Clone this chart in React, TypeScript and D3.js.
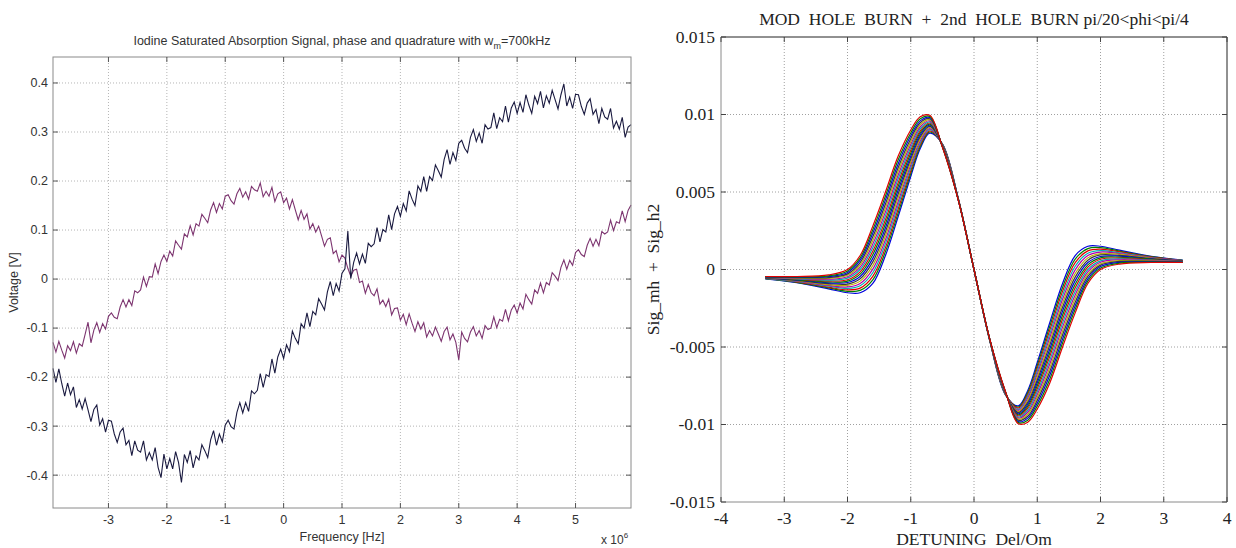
import React from 'react';
import * as d3 from 'd3';

// ---------------- Left panel data (frequency in units of 10^6 Hz, voltage in mV) ----------------
const FREQ_START = -3.95;
const FREQ_STEP = 0.05;

const inPhaseMv = [
  -182, -211, -183, -213, -239, -212, -236, -220, -262, -246,
  -265, -244, -267, -291, -266, -257, -298, -285, -312, -288,
  -290, -316, -333, -312, -304, -338, -329, -360, -330, -349,
  -353, -330, -369, -354, -369, -344, -384, -405, -357, -387,
  -366, -387, -352, -374, -415, -358, -374, -350, -385, -361,
  -369, -338, -350, -364, -328, -309, -339, -316, -332, -298,
  -288, -301, -306, -272, -252, -273, -252, -270, -228, -234,
  -227, -193, -221, -195, -199, -163, -192, -159, -143, -162,
  -134, -148, -106, -121, -132, -91, -100, -69, -97, -66,
  -73, -40, -51, -63, -26, -5, -34, -9, -24, 12,
  21, 98, 1, 34, 53, 31, 51, 32, 73, 66,
  72, 105, 76, 101, 96, 131, 101, 133, 148, 128,
  154, 139, 180, 163, 150, 190, 179, 209, 179, 209,
  201, 233, 221, 208, 244, 264, 234, 258, 242, 277,
  283, 267, 258, 289, 305, 281, 298, 277, 315, 306,
  309, 339, 307, 329, 321, 353, 320, 349, 361, 338,
  360, 340, 376, 355, 338, 373, 358, 383, 349, 374,
  359, 385, 366, 347, 376, 398, 353, 371, 348, 377,
  376, 352, 336, 359, 368, 336, 346, 317, 348, 331,
  326, 348, 308, 322, 306, 330, 289, 310, 315,
];

const quadratureMv = [
  -129, -149, -127, -145, -161, -136, -146, -128, -151, -132,
  -137, -113, -88, -130, -104, -89, -109, -91, -102, -76,
  -69, -78, -81, -57, -42, -57, -42, -54, -24, -28,
  -22, 4, -15, 5, 4, 31, 11, 36, 49, 36,
  57, 47, 78, 69, 61, 92, 86, 109, 90, 113,
  108, 132, 124, 115, 141, 156, 136, 154, 143, 169,
  172, 160, 153, 174, 185, 167, 178, 163, 189, 182,
  179, 196, 168, 179, 169, 187, 158, 174, 178, 156,
  165, 143, 162, 141, 121, 140, 122, 133, 102, 113,
  96, 108, 88, 67, 81, 84, 52, 58, 35, 49,
  43, 22, 6, 18, 20, -7, -4, -29, -11, -28,
  -34, -20, -51, -43, -56, -41, -73, -60, -59, -84,
  -72, -93, -71, -90, -107, -87, -102, -89, -118, -105,
  -116, -98, -112, -127, -107, -98, -124, -112, -129, -165,
  -108, -121, -128, -108, -97, -116, -105, -121, -95, -103,
  -100, -77, -99, -82, -86, -62, -85, -63, -53, -69,
  -49, -61, -31, -42, -51, -22, -29, -8, -28, -7,
  -12, 13, 6, -3, 24, 39, 20, 38, 28, 54,
  60, 50, 46, 69, 83, 67, 81, 68, 97, 92,
  96, 120, 99, 117, 114, 139, 117, 140, 151,
];

const leftXTicks = [-3, -2, -1, 0, 1, 2, 3, 4, 5];
const leftYTicks = [-0.4, -0.3, -0.2, -0.1, 0, 0.1, 0.2, 0.3, 0.4];

// ---------------- Right panel data (signal in units of 1e-3) ----------------
const detuning = [-3.3, -2.8, -2.3, -2.0, -1.8, -1.6, -1.4, -1.2, -1.0, -0.85, -0.7, -0.5, -0.25, 0,
  0.25, 0.5, 0.7, 0.85, 1.0, 1.2, 1.4, 1.6, 1.8, 2.0, 2.3, 2.8, 3.3];

const sigPhi01 = [-0.60, -0.85, -1.25, -1.50, -1.50, -0.90, 0.90, 3.40, 6.00, 7.80, 8.80, 8.10, 4.60, 0, -4.60, -8.10, -8.80, -7.80, -6.00, -3.40, -0.90, 0.90, 1.50, 1.50, 1.25, 0.85, 0.60];
const sigPhi02 = [-0.59, -0.825, -1.19, -1.41, -1.35, -0.67, 1.16, 3.64, 6.19, 7.93, 8.87, 8.09, 4.59, 0, -4.59, -8.09, -8.87, -7.93, -6.19, -3.64, -1.16, 0.67, 1.35, 1.41, 1.19, 0.825, 0.59];
const sigPhi03 = [-0.58, -0.80, -1.14, -1.31, -1.20, -0.44, 1.41, 3.89, 6.375, 8.06, 8.94, 8.075, 4.59, 0, -4.59, -8.075, -8.94, -8.06, -6.375, -3.89, -1.41, 0.44, 1.20, 1.31, 1.14, 0.80, 0.58];
const sigPhi04 = [-0.57, -0.775, -1.08, -1.22, -1.05, -0.21, 1.67, 4.13, 6.56, 8.18, 9.02, 8.06, 4.58, 0, -4.58, -8.06, -9.02, -8.18, -6.56, -4.13, -1.67, 0.21, 1.05, 1.22, 1.08, 0.775, 0.57];
const sigPhi05 = [-0.56, -0.75, -1.03, -1.125, -0.90, 0.025, 1.925, 4.375, 6.75, 8.31, 9.09, 8.05, 4.575, 0, -4.575, -8.05, -9.09, -8.31, -6.75, -4.375, -1.925, -0.025, 0.90, 1.125, 1.03, 0.75, 0.56];
const sigPhi06 = [-0.55, -0.725, -0.97, -1.03, -0.75, 0.26, 2.18, 4.62, 6.94, 8.44, 9.16, 8.04, 4.57, 0, -4.57, -8.04, -9.16, -8.44, -6.94, -4.62, -2.18, -0.26, 0.75, 1.03, 0.97, 0.725, 0.55];
const sigPhi07 = [-0.54, -0.70, -0.91, -0.94, -0.60, 0.49, 2.44, 4.86, 7.125, 8.57, 9.23, 8.025, 4.56, 0, -4.56, -8.025, -9.23, -8.57, -7.125, -4.86, -2.44, -0.49, 0.60, 0.94, 0.91, 0.70, 0.54];
const sigPhi08 = [-0.53, -0.675, -0.86, -0.84, -0.45, 0.72, 2.69, 5.11, 7.31, 8.70, 9.31, 8.01, 4.555, 0, -4.555, -8.01, -9.31, -8.70, -7.31, -5.11, -2.69, -0.72, 0.45, 0.84, 0.86, 0.675, 0.53];
const sigPhi09 = [-0.525, -0.65, -0.80, -0.75, -0.30, 0.95, 2.95, 5.35, 7.50, 8.825, 9.375, 8.00, 4.55, 0, -4.55, -8.00, -9.375, -8.825, -7.50, -5.35, -2.95, -0.95, 0.30, 0.75, 0.80, 0.65, 0.525];
const sigPhi10 = [-0.52, -0.625, -0.74, -0.66, -0.15, 1.18, 3.21, 5.59, 7.69, 8.95, 9.45, 7.99, 4.54, 0, -4.54, -7.99, -9.45, -8.95, -7.69, -5.59, -3.21, -1.18, 0.15, 0.66, 0.74, 0.625, 0.52];
const sigPhi11 = [-0.51, -0.60, -0.69, -0.56, 0.00, 1.41, 3.46, 5.84, 7.875, 9.08, 9.52, 7.975, 4.54, 0, -4.54, -7.975, -9.52, -9.08, -7.875, -5.84, -3.46, -1.41, 0.00, 0.56, 0.69, 0.60, 0.51];
const sigPhi12 = [-0.50, -0.575, -0.63, -0.47, 0.15, 1.64, 3.72, 6.08, 8.06, 9.21, 9.59, 7.96, 4.53, 0, -4.53, -7.96, -9.59, -9.21, -8.06, -6.08, -3.72, -1.64, -0.15, 0.47, 0.63, 0.575, 0.50];
const sigPhi13 = [-0.49, -0.55, -0.575, -0.375, 0.30, 1.875, 3.975, 6.325, 8.25, 9.34, 9.66, 7.95, 4.525, 0, -4.525, -7.95, -9.66, -9.34, -8.25, -6.325, -3.975, -1.875, -0.30, 0.375, 0.575, 0.55, 0.49];
const sigPhi14 = [-0.48, -0.525, -0.52, -0.28, 0.45, 2.11, 4.23, 6.57, 8.44, 9.47, 9.73, 7.94, 4.52, 0, -4.52, -7.94, -9.73, -9.47, -8.44, -6.57, -4.23, -2.11, -0.45, 0.28, 0.52, 0.525, 0.48];
const sigPhi15 = [-0.47, -0.50, -0.46, -0.19, 0.60, 2.34, 4.49, 6.81, 8.625, 9.59, 9.81, 7.925, 4.51, 0, -4.51, -7.925, -9.81, -9.59, -8.625, -6.81, -4.49, -2.34, -0.60, 0.19, 0.46, 0.50, 0.47];
const sigPhi16 = [-0.46, -0.475, -0.41, -0.09, 0.75, 2.57, 4.74, 7.06, 8.81, 9.72, 9.88, 7.91, 4.505, 0, -4.505, -7.91, -9.88, -9.72, -8.81, -7.06, -4.74, -2.57, -0.75, 0.09, 0.41, 0.475, 0.46];
const sigPhi17 = [-0.45, -0.45, -0.35, 0.00, 0.90, 2.80, 5.00, 7.30, 9.00, 9.85, 9.95, 7.90, 4.50, 0, -4.50, -7.90, -9.95, -9.85, -9.00, -7.30, -5.00, -2.80, -0.90, 0.00, 0.35, 0.45, 0.45];

const sigSeries = [sigPhi01, sigPhi02, sigPhi03, sigPhi04, sigPhi05, sigPhi06, sigPhi07, sigPhi08, sigPhi09,
  sigPhi10, sigPhi11, sigPhi12, sigPhi13, sigPhi14, sigPhi15, sigPhi16, sigPhi17];
const SIG_UNIT = 1e-3;

const rightXTicks = [-4, -3, -2, -1, 0, 1, 2, 3, 4];
const rightYTicks = [-0.015, -0.01, -0.005, 0, 0.005, 0.01, 0.015];
const matlabColors = ['#0000dd', '#008000', '#e00000', '#00b0b0', '#b000b0', '#b8b000', '#3a3a3a'];

const fmt = (v: number) => String(+v.toFixed(4));

export default function App() {
  // ---------- left panel ----------
  const L = { x0: 53, x1: 631, y0: 57, y1: 508 };
  const xL = d3.scaleLinear().domain([-3.95, 5.95]).range([L.x0, L.x1]);
  const yL = d3.scaleLinear().domain([-0.467, 0.453]).range([L.y1, L.y0]);
  const lineL = d3.line<number>()
    .x((_, i) => xL(FREQ_START + i * FREQ_STEP))
    .y((v) => yL(v / 1000));

  // ---------- right panel ----------
  const R = { x0: 721, x1: 1227, y0: 37, y1: 502 };
  const xR = d3.scaleLinear().domain([-4, 4]).range([R.x0, R.x1]);
  const yR = d3.scaleLinear().domain([-0.015, 0.015]).range([R.y1, R.y0]);
  const lineR = d3.line<number>()
    .x((_, i) => xR(detuning[i]))
    .y((v) => yR(v * SIG_UNIT))
    .curve(d3.curveCatmullRom.alpha(0.5));

  const sans = '"Liberation Sans", Arial, sans-serif';
  const serif = '"Liberation Serif", "Times New Roman", serif';
  const tk = 5;
  const rfs = 17.5;

  return (
    <svg width={1236} height={548} style={{ position: 'absolute', left: 0, top: 0, background: '#fff' }}>
      <rect x={0} y={0} width={1236} height={548} fill="#fff" />

      {/* ================= LEFT ================= */}
      <g>
        {leftXTicks.map((t) => (
          <line key={'lgx' + t} x1={xL(t)} x2={xL(t)} y1={L.y0} y2={L.y1} stroke="#b5b5b5" strokeWidth={1} strokeDasharray="1,2" />
        ))}
        {leftYTicks.map((t) => (
          <line key={'lgy' + t} x1={L.x0} x2={L.x1} y1={yL(t)} y2={yL(t)} stroke="#b5b5b5" strokeWidth={1} strokeDasharray="1,2" />
        ))}
        <path d={lineL(quadratureMv) || ''} fill="none" stroke="#7d3570" strokeWidth={1.1} />
        <path d={lineL(inPhaseMv) || ''} fill="none" stroke="#1a1a40" strokeWidth={1.1} />
        <rect x={L.x0} y={L.y0} width={L.x1 - L.x0} height={L.y1 - L.y0} fill="none" stroke="#8a8a8a" strokeWidth={1} />
        {leftXTicks.map((t) => (
          <g key={'ltx' + t}>
            <line x1={xL(t)} x2={xL(t)} y1={L.y1} y2={L.y1 - tk} stroke="#555" />
            <line x1={xL(t)} x2={xL(t)} y1={L.y0} y2={L.y0 + tk} stroke="#555" />
            <text x={xL(t)} y={524} textAnchor="middle" fontFamily={sans} fontSize={12.5} fill="#333">{t}</text>
          </g>
        ))}
        {leftYTicks.map((t) => (
          <g key={'lty' + t}>
            <line x1={L.x0} x2={L.x0 + tk} y1={yL(t)} y2={yL(t)} stroke="#555" />
            <line x1={L.x1} x2={L.x1 - tk} y1={yL(t)} y2={yL(t)} stroke="#555" />
            <text x={48} y={yL(t)} dy="0.35em" textAnchor="end" fontFamily={sans} fontSize={12.5} fill="#333">{fmt(t)}</text>
          </g>
        ))}
        <text x={(L.x0 + L.x1) / 2} y={45} textAnchor="middle" fontFamily={sans} fontSize={12.5} fill="#333">
          Iodine Saturated Absorption Signal, phase and quadrature with w<tspan fontSize={9} dy={4}>m</tspan><tspan dy={-4}>=700kHz</tspan>
        </text>
        <text x={(L.x0 + L.x1) / 2} y={541} textAnchor="middle" fontFamily={sans} fontSize={12.5} fill="#333">Frequency [Hz]</text>
        <text x={601} y={544} fontFamily={sans} fontSize={12} fill="#333">x 10<tspan fontSize={8} dy={-6}>6</tspan></text>
        <text transform={`translate(18, ${(L.y0 + L.y1) / 2}) rotate(-90)`} textAnchor="middle" fontFamily={sans} fontSize={12.5} fill="#333">Voltage [V]</text>
      </g>

      {/* ================= RIGHT ================= */}
      <g>
        {rightXTicks.slice(1, -1).map((t) => (
          <line key={'rgx' + t} x1={xR(t)} x2={xR(t)} y1={R.y0} y2={R.y1} stroke="#a0a0a0" strokeWidth={1} strokeDasharray="1,2" />
        ))}
        {rightYTicks.slice(1, -1).map((t) => (
          <line key={'rgy' + t} x1={R.x0} x2={R.x1} y1={yR(t)} y2={yR(t)} stroke="#a0a0a0" strokeWidth={1} strokeDasharray="1,2" />
        ))}
        {sigSeries.map((s, k) => (
          <path key={'c' + k} d={lineR(s) || ''} fill="none" stroke={matlabColors[k % matlabColors.length]} strokeWidth={1.2} />
        ))}
        <line x1={R.x0} x2={R.x1} y1={R.y0} y2={R.y0} stroke="#222" />
        <line x1={R.x1} x2={R.x1} y1={R.y0} y2={R.y1} stroke="#222" />
        <line x1={R.x0} x2={R.x1} y1={R.y1} y2={R.y1} stroke="#8a8a8a" />
        <line x1={R.x0} x2={R.x0} y1={R.y0} y2={R.y1} stroke="#8a8a8a" />
        {rightXTicks.map((t) => (
          <g key={'rtx' + t}>
            <line x1={xR(t)} x2={xR(t)} y1={R.y1} y2={R.y1 - tk} stroke="#444" />
            <line x1={xR(t)} x2={xR(t)} y1={R.y0} y2={R.y0 + tk} stroke="#444" />
            <text x={xR(t)} y={524} textAnchor="middle" fontFamily={serif} fontSize={rfs} fill="#222">{t}</text>
          </g>
        ))}
        {rightYTicks.map((t) => (
          <g key={'rty' + t}>
            <line x1={R.x0} x2={R.x0 + tk} y1={yR(t)} y2={yR(t)} stroke="#444" />
            <line x1={R.x1} x2={R.x1 - tk} y1={yR(t)} y2={yR(t)} stroke="#444" />
            <text x={715} y={yR(t)} dy="0.33em" textAnchor="end" fontFamily={serif} fontSize={rfs} fill="#222">{fmt(t)}</text>
          </g>
        ))}
        <text x={(R.x0 + R.x1) / 2} y={25} textAnchor="middle" fontFamily={serif} fontSize={rfs} fill="#222" style={{ whiteSpace: 'pre' }}>
          {'MOD  HOLE  BURN  +  2nd  HOLE  BURN pi/20<phi<pi/4'}
        </text>
        <text x={(R.x0 + R.x1) / 2} y={545} textAnchor="middle" fontFamily={serif} fontSize={rfs} fill="#222" style={{ whiteSpace: 'pre' }}>
          {'DETUNING  Del/Om'}
        </text>
        <text transform={`translate(659, ${(R.y0 + R.y1) / 2}) rotate(-90)`} textAnchor="middle" fontFamily={serif} fontSize={rfs} fill="#222" style={{ whiteSpace: 'pre' }}>
          {'Sig_mh  +  Sig_h2'}
        </text>
      </g>
    </svg>
  );
}
